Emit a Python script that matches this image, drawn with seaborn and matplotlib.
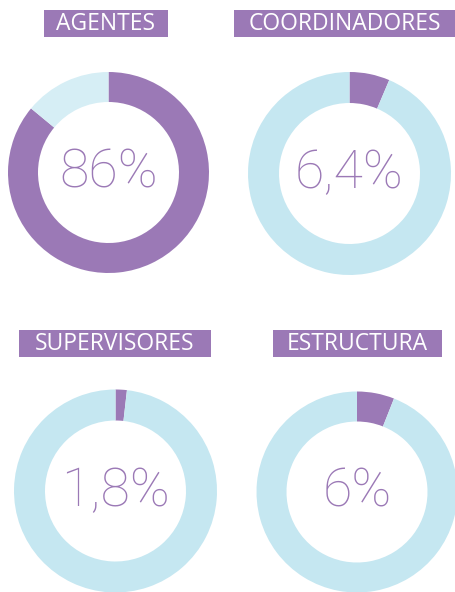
import matplotlib
matplotlib.use("Agg")
import matplotlib.pyplot as plt
from matplotlib.patches import Rectangle
import seaborn as sns

sns.set_theme(style="white")
plt.rcParams['font.family'] = ['Lato', 'DejaVu Sans']

# Data
categories = ["AGENTES", "COORDINADORES", "SUPERVISORES", "ESTRUCTURA"]
share_values = [86.0, 6.4, 1.8, 6.0]
center_labels = ["86%", "6,4%", "1,8%", "6%"]

PURPLE = "#9b79b6"
LIGHT = ["#d6eef5", "#c5e7f1", "#c5e7f1", "#c5e7f1"]

W, H = 455, 592
fig = plt.figure(figsize=(W / 100, H / 100), dpi=100)
fig.patch.set_facecolor("white")

# layout in pixels: (cx, cy, R)
donuts = [(108.5, 172.5, 100.5), (349.5, 173.5, 101.5), (115.5, 491.0, 101.5), (357.0, 492.0, 100.5)]
inner_r = 70.5
boxes = [(44, 168, 10, 37), (234, 460, 10, 37), (19, 211, 330, 357), (273, 442, 330, 357)]
text_x = [106, 345, 115, 357.5]

for i, cat in enumerate(categories):
    cx, cy, R = donuts[i]
    ax = fig.add_axes([(cx - R) / W, (H - cy - R) / H, 2 * R / W, 2 * R / H])
    v = share_values[i]
    ax.pie([v, 100 - v], colors=[PURPLE, LIGHT[i]], startangle=90, counterclock=False,
           radius=1.0, wedgeprops=dict(width=1 - inner_r / R, linewidth=0))
    ax.set_xlim(-1, 1)
    ax.set_ylim(-1, 1)
    ax.set_aspect("auto")
    ax.axis("off")
    ax.text(0, 0.0, center_labels[i], ha="center", va="center", fontsize=38.5,
            color=PURPLE, fontweight="light", family=["Roboto", "DejaVu Sans"])

    x0, x1, y0, y1 = boxes[i]
    fig.patches.append(Rectangle((x0 / W, 1 - y1 / H), (x1 - x0) / W, (y1 - y0) / H,
                                 transform=fig.transFigure, facecolor=PURPLE,
                                 edgecolor="none", figure=fig))
    fig.text(text_x[i] / W, 1 - ((y0 + y1) / 2 + 0.5) / H, cat, ha="center", va="center",
             fontsize=16.5, color="white", family=["Open Sans", "DejaVu Sans"])

fig.savefig("out.png", dpi=100, facecolor="white")
